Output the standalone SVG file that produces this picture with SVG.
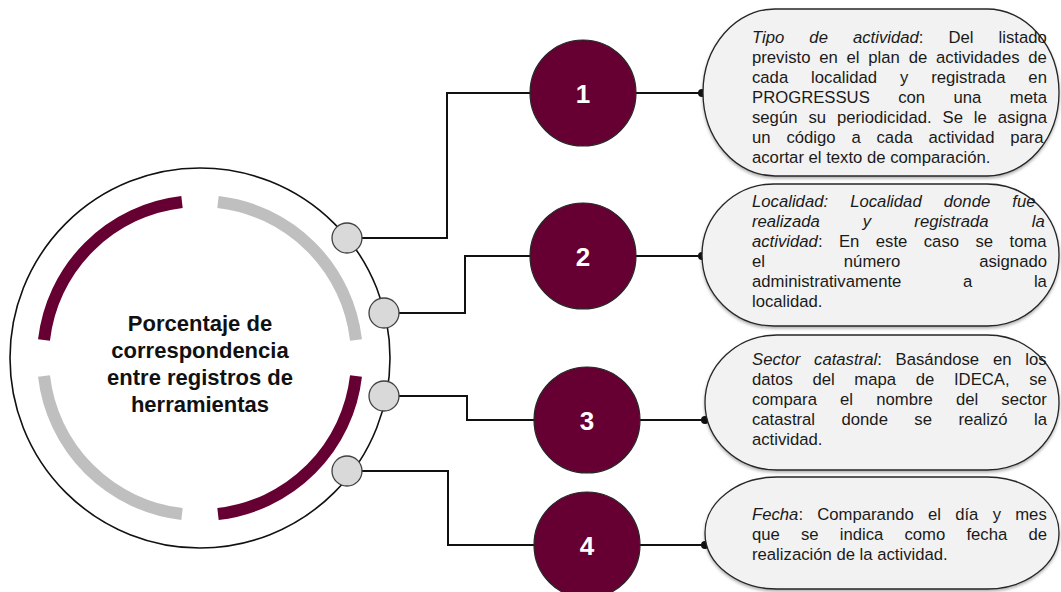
<svg xmlns="http://www.w3.org/2000/svg" width="1061" height="592" viewBox="0 0 1061 592">
<style>
.t{font-family:"Liberation Sans",Arial,sans-serif;font-size:16.7px;fill:#1a1a1a}
.i{font-style:italic}
.ctr{font-family:"Liberation Sans",Arial,sans-serif;font-size:22px;font-weight:bold;fill:#111;text-anchor:middle}
.num{font-family:"Liberation Sans",Arial,sans-serif;font-size:26px;font-weight:bold;fill:#fff;text-anchor:middle}
.box{fill:#f2f2f2;stroke:#262626;stroke-width:1.3;filter:url(#sh)}
.nc{fill:#660033;stroke:#262626;stroke-width:1.2}
.sc{fill:#d9d9d9;stroke:#404040;stroke-width:1.3}
.ln{fill:none;stroke:#111;stroke-width:2}
.dot{fill:#111}
.arc{fill:none;stroke-width:12}
</style>
<defs>
<filter id="sh" x="-5%" y="-5%" width="110%" height="115%">
<feDropShadow dx="0" dy="2" stdDeviation="1.5" flood-color="#000" flood-opacity="0.3"/>
</filter>
</defs>
<rect width="1061" height="592" fill="#fff"/>

<g id="center">
<circle cx="200" cy="358" r="190" fill="none" stroke="#111" stroke-width="1.6"/>
<path class="arc" stroke="#660033" d="M44,340 A157,157 0 0 1 182,202"/>
<path class="arc" stroke="#bfbfbf" d="M218,202 A157,157 0 0 1 356,340"/>
<path class="arc" stroke="#660033" d="M356,376 A157,157 0 0 1 218,514"/>
<path class="arc" stroke="#bfbfbf" d="M182,514 A157,157 0 0 1 44,376"/>
<text class="ctr" x="200" y="331">Porcentaje de</text>
<text class="ctr" x="200" y="358">correspondencia</text>
<text class="ctr" x="200" y="385">entre registros de</text>
<text class="ctr" x="200" y="412">herramientas</text>
</g>

<g id="connectors">
<polyline class="ln" points="347,238 447,238 447,93 702,93"/>
<polyline class="ln" points="384,313 465,313 465,256 702,256"/>
<polyline class="ln" points="384,396 467,396 467,420 705,420"/>
<polyline class="ln" points="347,471 448,471 448,545 705,545"/>
<circle class="dot" cx="702" cy="93" r="4"/>
<circle class="dot" cx="702" cy="256" r="4"/>
<circle class="dot" cx="705" cy="420" r="4"/>
<circle class="dot" cx="705" cy="545" r="4"/>
</g>

<g id="ports">
<circle class="sc" cx="347" cy="238" r="15"/>
<circle class="sc" cx="384" cy="313" r="15"/>
<circle class="sc" cx="384" cy="396" r="15"/>
<circle class="sc" cx="347" cy="471" r="15"/>
</g>

<g id="n1"><circle class="nc" cx="583" cy="93" r="53"/><text class="num" x="583" y="102.5">1</text></g>
<g id="n2"><circle class="nc" cx="583" cy="256" r="53"/><text class="num" x="583" y="265.5">2</text></g>
<g id="n3"><circle class="nc" cx="587" cy="420" r="53"/><text class="num" x="587" y="429.5">3</text></g>
<g id="n4"><circle class="nc" cx="587" cy="545" r="53"/><text class="num" x="587" y="554.5">4</text></g>

<g id="box1">
<rect class="box" x="703" y="9" width="356" height="167" rx="72" ry="83.5"/>
<text class="t" x="752" y="43" style="word-spacing:20.4px"><tspan class="i">Tipo de actividad</tspan>: Del listado</text>
<text class="t" x="752" y="63" style="word-spacing:4.15px">previsto en el plan de actividades de</text>
<text class="t" x="752" y="83" style="word-spacing:18.3px">cada localidad y registrada en</text>
<text class="t" x="752" y="103" style="word-spacing:23.8px">PROGRESSUS con una meta</text>
<text class="t" x="752" y="123" style="word-spacing:6.3px">según su periodicidad. Se le asigna</text>
<text class="t" x="752" y="143" style="word-spacing:11.2px">un código a cada actividad para</text>
<text class="t" x="752" y="163">acortar el texto de comparación.</text>
</g>

<g id="box2">
<rect class="box" x="702" y="184" width="357" height="142" rx="72" ry="71"/>
<text class="t i" x="752" y="207" style="word-spacing:17.5px">Localidad: Localidad donde fue</text>
<text class="t i" x="752" y="227" style="word-spacing:38.5px">realizada y registrada la</text>
<text class="t" x="752" y="247" style="word-spacing:11.8px"><tspan class="i">actividad</tspan>: En este caso se toma</text>
<text class="t" x="752" y="267" style="word-spacing:74.2px">el número asignado</text>
<text class="t" x="752" y="287" style="word-spacing:57px">administrativamente a la</text>
<text class="t" x="752" y="307">localidad.</text>
</g>

<g id="box3">
<rect class="box" x="705" y="335" width="354" height="135" rx="72" ry="67.5"/>
<text class="t" x="752" y="365" style="word-spacing:9.2px"><tspan class="i">Sector catastral</tspan>: Basándose en los</text>
<text class="t" x="752" y="385" style="word-spacing:15px">datos del mapa de IDECA, se</text>
<text class="t" x="752" y="405" style="word-spacing:18.5px">compara el nombre del sector</text>
<text class="t" x="752" y="425" style="word-spacing:21.8px">catastral donde se realizó la</text>
<text class="t" x="752" y="445">actividad.</text>
</g>

<g id="box4">
<rect class="box" x="705" y="477" width="354" height="112" rx="72" ry="56"/>
<text class="t" x="752" y="520" style="word-spacing:9.6px"><tspan class="i">Fecha</tspan>: Comparando el día y mes</text>
<text class="t" x="752" y="540" style="word-spacing:16.5px">que se indica como fecha de</text>
<text class="t" x="752" y="560">realización de la actividad.</text>
</g>
</svg>
